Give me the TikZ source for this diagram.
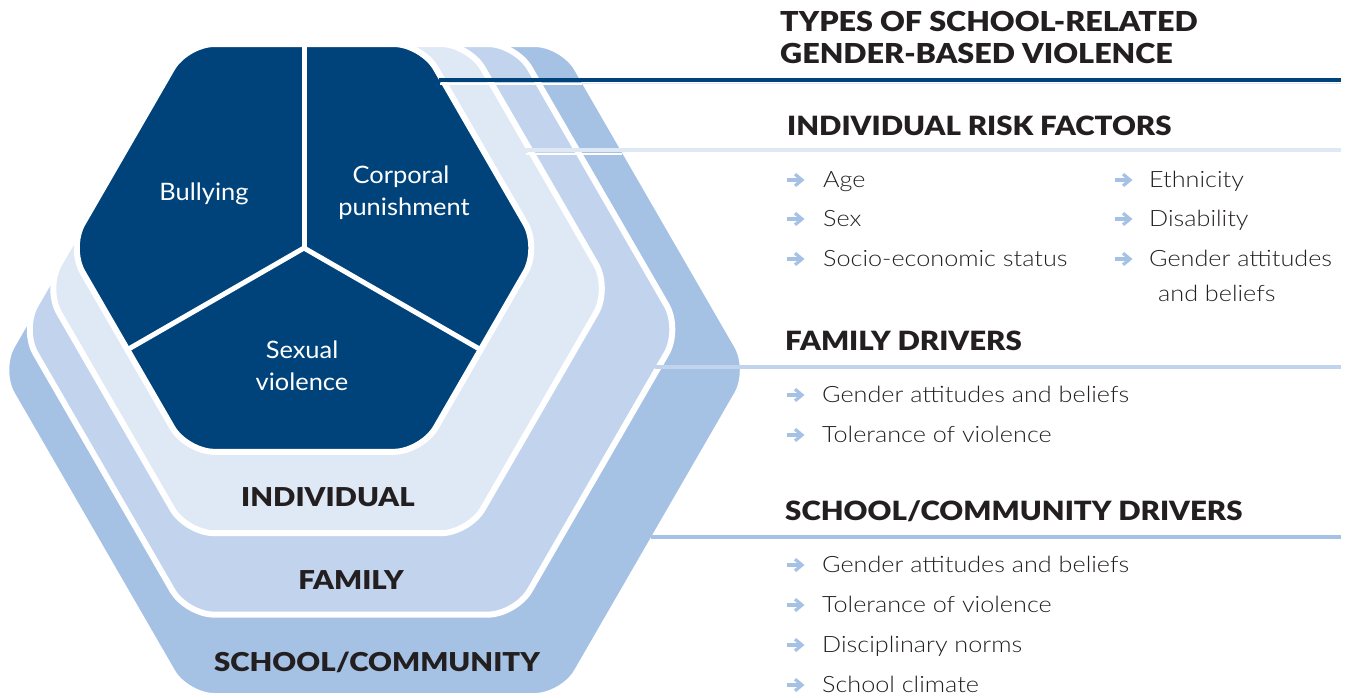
\documentclass[tikz,border=0pt]{standalone}
\usepackage{fontspec}
\setmainfont{Lato}
\IfFontExistsTF{Lato Light}{\newfontfamily\lightf{Lato Light}[FakeStretch=1.12]}{\newfontfamily\lightf{Lato}[FakeStretch=1.12]}
\IfFontExistsTF{Lato Black}{\newfontfamily\blackf{Lato Black}[FakeStretch=1.11]}{\newfontfamily\blackf{Lato}[FakeStretch=1.16,FakeBold=1]}
\IfFontExistsTF{Lato Black}{\newfontfamily\labelf{Lato Black}[FakeStretch=1.13]}{\newfontfamily\labelf{Lato}[FakeStretch=1.18,FakeBold=1]}
\newfontfamily\regf{Lato}[FakeStretch=1.06]
\definecolor{dkblue}{HTML}{00427A}
\definecolor{indc}{HTML}{DFE8F5}
\definecolor{famc}{HTML}{C2D4ED}
\definecolor{schc}{HTML}{A5C2E5}
\definecolor{txt}{HTML}{231F20}
\newcommand\hexside[1]{(186.3,44) -- ++({#1+3.46},0) -- ++({0.5*(#1+3.46)},{0.866*(#1+3.46)}) -- ++({-0.5*(#1+3.46)},{0.866*(#1+3.46)}) -- ++({-(#1+3.46)},0) -- ++({-0.5*(#1+3.46)},{-0.866*(#1+3.46)}) -- cycle}
\begin{document}
\begin{tikzpicture}[x=1pt,y=-1pt,
  layer/.style={draw=white,line width=6pt,rounded corners=28pt,line join=round},
  divider/.style={draw=white,line width=5pt},
  conn/.style={line width=4.2pt},
  hexlabel/.style={text=white,font=\fontsize{24}{28}\selectfont\regf,inner sep=0pt,anchor=base},
  layerlabel/.style={text=txt,font=\fontsize{26}{30}\selectfont\labelf,inner sep=0pt,anchor=base},
  heading/.style={text=txt,font=\fontsize{26.5}{30}\selectfont\blackf,inner sep=0pt,anchor=base west},
  title/.style={text=txt,font=\fontsize{27.5}{31}\selectfont\blackf,inner sep=0pt,anchor=base west},
  item/.style={text=txt,font=\fontsize{22.5}{26}\selectfont\lightf,inner sep=0pt,anchor=base west},
  arrowpic/.pic={\draw[schc,line width=3.2pt] (-8,0) -- (5.5,0);
                 \draw[schc,line width=3.2pt,line cap=butt,miter limit=4] (0,-5.8) -- (7,0) -- (0,5.8);}]
\useasboundingbox (0,0) rectangle (1349,697);
% layers
\fill[schc,layer] \hexside{373};
\fill[famc,layer] \hexside{326};
\fill[indc,layer] \hexside{279};
\fill[dkblue,layer] \hexside{232};
% dividers in the inner hexagon
\coordinate (ctr) at (304,248);
\coordinate (dtop) at (304,40);
\coordinate (dleft) at (126,350.5);
\coordinate (dright) at (482,350.5);
\draw[divider] (ctr) -- (dtop);
\draw[divider] (ctr) -- (dleft);
\draw[divider] (ctr) -- (dright);
% connector lines
\coordinate (c0a) at (439,80);   \coordinate (c0b) at (1341,80);
\coordinate (c0w) at (582,83.5); \coordinate (c0e) at (1341,83.5);
\coordinate (c0s) at (440,83.5);
\coordinate (c1a) at (526,150);  \coordinate (c1b) at (1341,150);
\coordinate (c1s) at (526,153.5);\coordinate (c1w) at (622,153.5);
\coordinate (c2a) at (655,367);  \coordinate (c2b) at (1341,367);
\coordinate (c3a) at (651,537);  \coordinate (c3b) at (1341,537);
\draw[white,line width=2pt] (c0s) -- (c0w);
\draw[indc,line width=1.8pt] (c0w) -- (c0e);
\draw[dkblue,conn] (c0a) -- (c0b);
\draw[white,line width=2pt] (c1s) -- (c1w);
\draw[indc,conn] (c1a) -- (c1b);
\draw[famc,conn] (c2a) -- (c2b);
\draw[schc,conn] (c3a) -- (c3b);
% hexagon texts
\node[hexlabel] (bul) at (204,200) {Bullying};
\node[hexlabel] (cor1) at (401,183) {Corporal};
\node[hexlabel] (cor2) at (404,215) {punishment};
\node[hexlabel] (sex1) at (302,358) {Sexual};
\node[hexlabel] (sex2) at (302,390) {violence};
\node[layerlabel] (lind) at (328,506) {INDIVIDUAL};
\node[layerlabel] (lfam) at (351,589) {FAMILY};
\node[layerlabel] (lsch) at (377,671) {SCHOOL/COMMUNITY};
% headings
\node[title] (h0a) at (780,31) {TYPES OF SCHOOL-RELATED};
\node[title] (h0b) at (780,63) {GENDER-BASED VIOLENCE};
\node[heading] (h1) at (787,135) {INDIVIDUAL RISK FACTORS};
\node[heading] (h2) at (785,350) {FAMILY DRIVERS};
\node[heading] (h3) at (785,520) {SCHOOL/COMMUNITY DRIVERS};
% individual items
\pic at (795,180) {arrowpic}; \node[item] (i1) at (823,187) {Age};
\pic at (795,219) {arrowpic}; \node[item] (i2) at (823,226) {Sex};
\pic at (795,259) {arrowpic}; \node[item] (i3) at (823,266) {Socio-economic status};
\pic at (1123,180) {arrowpic}; \node[item] (i4) at (1149,187) {Ethnicity};
\pic at (1123,219) {arrowpic}; \node[item] (i5) at (1149,226) {Disability};
\pic at (1123,259) {arrowpic}; \node[item] (i6) at (1149,266) {Gender attitudes};
\node[item] (i6b) at (1158,301) {and beliefs};
% family items
\pic at (795,395) {arrowpic}; \node[item] (f1) at (822,402) {Gender attitudes and beliefs};
\pic at (795,435) {arrowpic}; \node[item] (f2) at (822,442) {Tolerance of violence};
% school items
\pic at (795,565) {arrowpic}; \node[item] (s1) at (822,572) {Gender attitudes and beliefs};
\pic at (795,605) {arrowpic}; \node[item] (s2) at (822,612) {Tolerance of violence};
\pic at (795,645) {arrowpic}; \node[item] (s3) at (822,652) {Disciplinary norms};
\pic at (795,685) {arrowpic}; \node[item] (s4) at (822,692) {School climate};
\end{tikzpicture}
\end{document}
